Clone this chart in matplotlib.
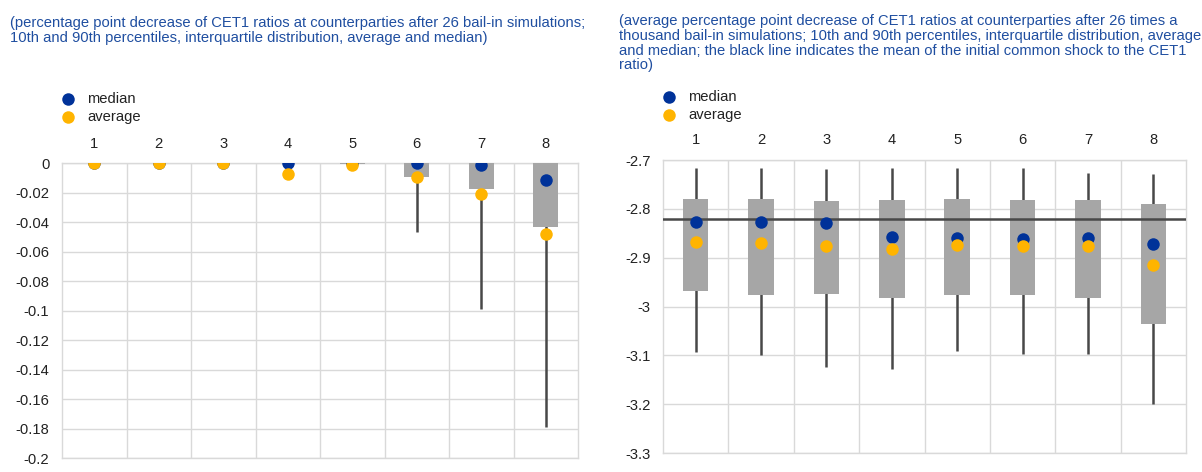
import numpy as np
import matplotlib.pyplot as plt

plt.rcParams['font.family'] = ['Liberation Sans', 'DejaVu Sans']

# bail-in simulations, 8 rounds
rounds = [1, 2, 3, 4, 5, 6, 7, 8]

# left panel: percentage point decrease of CET1 ratios (26 simulations)
l_p10 = [0, 0, 0, 0, 0, 0, 0, 0]
l_q1 = [0, 0, 0, 0, 0, 0, 0, 0]
l_q3 = [0, 0, 0, 0, -0.0008, -0.0095, -0.0175, -0.0435]
l_p90 = [0, 0, 0, 0, -0.005, -0.047, -0.099, -0.179]
l_median = [0, 0, 0, 0, 0, 0, -0.0016, -0.0115]
l_average = [0, 0, 0, -0.0073, -0.0014, -0.0094, -0.0212, -0.0481]

# right panel: 26 x 1000 simulations
r_p10 = [-2.717, -2.717, -2.719, -2.717, -2.717, -2.717, -2.726, -2.728]
r_q1 = [-2.780, -2.780, -2.783, -2.782, -2.780, -2.782, -2.781, -2.791]
r_q3 = [-2.969, -2.976, -2.975, -2.983, -2.977, -2.977, -2.982, -3.036]
r_p90 = [-3.094, -3.099, -3.123, -3.128, -3.091, -3.098, -3.098, -3.200]
r_median = [-2.826, -2.826, -2.830, -2.857, -2.860, -2.861, -2.860, -2.872]
r_average = [-2.868, -2.870, -2.876, -2.883, -2.874, -2.877, -2.876, -2.915]
common_shock = -2.821

title_l = ("(percentage point decrease of CET1 ratios at counterparties after 26 bail-in simulations;\n"
           "10th and 90th percentiles, interquartile distribution, average and median)")
title_r = ("(average percentage point decrease of CET1 ratios at counterparties after 26 times a\n"
           "thousand bail-in simulations; 10th and 90th percentiles, interquartile distribution, average\n"
           "and median; the black line indicates the mean of the initial common shock to the CET1\n"
           "ratio)")

BLUE = '#003299'
YELLOW = '#ffb400'
BOX = '#a6a6a6'
WHISK = '#484848'
GRID = '#d9d9d9'
TXT = '#1f4ea0'
FS = 10.6

W, H = 1202, 472
fig = plt.figure(figsize=(W / 100, H / 100), dpi=100)


def panel(rect, p10, q1, q3, p90, med, avg, ylim, ystep, fmt):
    ax = fig.add_axes(rect)
    x = np.array(rounds)
    ax.vlines(x, p90, p10, color=WHISK, lw=1.8, zorder=2)
    ax.bar(x, np.array(q1) - np.array(q3), bottom=q3, width=0.39,
           color=BOX, zorder=3)
    ax.plot(x, med, 'o', color=BLUE, ms=9, mec='none', zorder=4, label='median')
    ax.plot(x, avg, 'o', color=YELLOW, ms=9, mec='none', zorder=5, label='average')
    ax.set_xlim(0.5, 8.5)
    ax.set_ylim(*ylim)
    ax.set_yticks(np.arange(ylim[0], ylim[1] + ystep / 2, ystep))
    ax.set_yticklabels([fmt(v) for v in ax.get_yticks()])
    ax.set_xticks(x)
    ax.set_xticks(np.arange(1.5, 8, 1), minor=True)
    ax.xaxis.tick_top()
    ax.tick_params(axis='both', which='both', length=0, labelsize=FS,
                   colors='#222222', pad=9)
    ax.grid(True, axis='y', which='major', color=GRID, lw=1)
    ax.grid(True, axis='x', which='minor', color=GRID, lw=1)
    ax.set_axisbelow(True)
    for s in ax.spines.values():
        s.set_color(GRID)
        s.set_linewidth(1)
    return ax


def fmt_l(v):
    return '0' if abs(v) < 1e-9 else ('%.2f' % v).rstrip('0').rstrip('.')


def fmt_r(v):
    return ('%.1f' % v).rstrip('0').rstrip('.')


ax1 = panel([62 / W, 1 - 458 / H, 516 / W, 295 / H], l_p10, l_q1, l_q3, l_p90,
            l_median, l_average, (-0.2, 0), 0.02, fmt_l)
ax2 = panel([663 / W, 1 - 453 / H, 523 / W, 293 / H], r_p10, r_q1, r_q3, r_p90,
            r_median, r_average, (-3.3, -2.7), 0.1, fmt_r)
ax2.axhline(common_shock, color='#484848', lw=1.8, zorder=3.5)

fig.text(10 / W, 1 - 16 / H, title_l, color=TXT, fontsize=FS, va='top', ha='left',
         linespacing=1.07)
fig.text(619 / W, 1 - 14 / H, title_r, color=TXT, fontsize=FS, va='top', ha='left',
         linespacing=1.07)

# legends
for x0, y0 in [(68, 99), (669, 97)]:
    for k, (lab, col) in enumerate([('median', BLUE), ('average', YELLOW)]):
        yy = 1 - (y0 + 18 * k) / H
        fig.lines.append(plt.Line2D([x0 / W], [yy], marker='o', ms=9, color=col,
                                    mec='none', transform=fig.transFigure))
        fig.text((x0 + 19) / W, yy, lab, fontsize=FS, color='#222222', va='center')

fig.savefig('out.png', dpi=100)
